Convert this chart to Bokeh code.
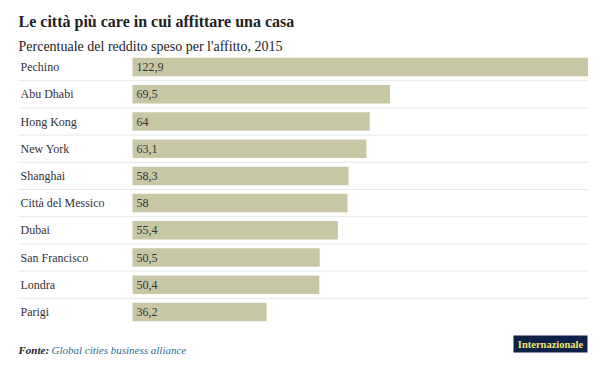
from bokeh.plotting import figure
from bokeh.models import Range1d, ColumnDataSource
from bokeh.core.properties import value
from bokeh.embed import file_html
from bokeh.resources import INLINE

# ---- data ----
cities = ["Pechino", "Abu Dhabi", "Hong Kong", "New York", "Shanghai",
          "Città del Messico", "Dubai", "San Francisco", "Londra", "Parigi"]
values = [122.9, 69.5, 64, 63.1, 58.3, 58, 55.4, 50.5, 50.4, 36.2]
value_labels = [f"{v:g}".replace(".", ",") for v in values]

title = "Le città più care in cui affittare una casa"
subtitle = "Percentuale del reddito speso per l'affitto, 2015"
source_label = "Fonte:"
source_name = "Global cities business alliance"
brand = "Internazionale"

# ---- layout ----
W, H = 592, 360
SX = 455.5 / 122.9          # pixels per unit on x
PITCH = 27.2                # pixels per row
X0PIX = 132                 # pixel of value 0
Y0PIX = 66.6                # pixel of first row centre


def dx(px):
    return (px - X0PIX) / SX


def dy(py):
    return (py - Y0PIX) / PITCH


SERIF = value("Liberation Serif")

p = figure(width=W, height=H, output_backend="svg", toolbar_location=None,
           x_range=Range1d(dx(0), dx(W)), y_range=Range1d(dy(H), dy(0)),
           min_border=0, outline_line_color=None, background_fill_color="white",
           border_fill_color="white")
p.axis.visible = False
p.grid.visible = False

idx = list(range(len(cities)))
src = ColumnDataSource(dict(y=idx, v=values, lab=value_labels, city=cities))

# separators between rows
sep_y = [i + 0.5 for i in idx[:-1]]
p.segment(x0=dx(18), x1=dx(588), y0=sep_y, y1=sep_y,
          line_color="#cfcfcf", line_width=1, line_dash="1 1")

p.hbar(y="y", left=0, right="v", height=18.5 / PITCH, source=src,
       fill_color="#c8c7a5", line_color=None)

p.text(x=dx(20), y="y", text="city", source=src, text_font=SERIF,
       text_font_size="12px", text_color="#333333", text_baseline="middle")
p.text(x=0, x_offset=4, y="y", text="lab", source=src, text_font=SERIF,
       text_font_size="12px", text_color="#333333", text_baseline="middle")

# titles
p.text(x=[dx(18)], y=[dy(21)], text=[title], text_font=SERIF,
       text_font_size="16px", text_font_style="bold", text_color="#222222",
       text_baseline="alphabetic")
p.text(x=[dx(18)], y=[dy(45.5)], text=[subtitle], text_font=SERIF,
       text_font_size="14px", text_color="#222222", text_baseline="alphabetic")

# source
p.text(x=[dx(18)], y=[dy(349)], text=[source_label], text_font=SERIF,
       text_font_size="11px", text_font_style="bold italic", text_color="#222222",
       text_baseline="middle")
p.text(x=[dx(51)], y=[dy(349)], text=[source_name], text_font=SERIF,
       text_font_size="11px", text_font_style="italic", text_color="#2b6c93",
       text_baseline="middle")

# brand box
p.quad(left=[dx(513)], right=[dx(587)], top=[dy(335)], bottom=[dy(352)],
       fill_color="#0d2147", line_color=None)
p.text(x=[dx(550)], y=[dy(343.5)], text=[brand], text_font=SERIF,
       text_font_size="10.5px", text_font_style="bold", text_color="#f2e56b",
       text_align="center", text_baseline="middle")

open("out.html", "w").write(file_html(p, INLINE))
